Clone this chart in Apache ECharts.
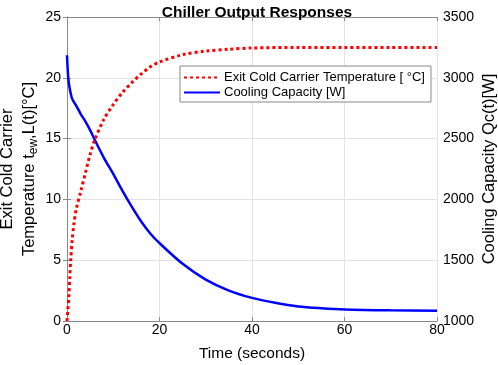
<!DOCTYPE html>
<html>
<head>
<meta charset="utf-8">
<script src="https://cdn.jsdelivr.net/npm/echarts@6/dist/echarts.min.js"></script>
<style>html,body{margin:0;padding:0;background:#fff;}#c{width:498px;height:365px;}</style>
</head>
<body>
<div id="c"></div>
<script>
const titleText = 'Chiller Output Responses';
const xTicks = [0, 20, 40, 60, 80];
const leftTicks = [0, 5, 10, 15, 20, 25];
const rightTicks = [1000, 1500, 2000, 2500, 3000, 3500];

const tempTime = [0, 0.2, 0.4, 0.6, 0.8, 1.1, 1.5, 2, 3, 4, 5, 6, 8, 10, 12, 14, 16, 18, 20, 25, 30, 35, 40, 50, 60, 70, 80];
const tempValues = [0, 1.0, 2.0, 3.5, 5.0, 6.6, 8.0, 9.2, 10.7, 12.2, 13.7, 14.9, 16.6, 17.8, 18.8, 19.6, 20.3, 20.9, 21.3, 21.9, 22.2, 22.35, 22.45, 22.5, 22.5, 22.5, 22.5];

const capTime = [0, 0.25, 0.5, 1, 1.5, 2, 3, 4, 5, 6, 8, 10, 12, 14, 16, 18, 20, 25, 30, 35, 40, 45, 50, 55, 60, 70, 80];
const capValues = [3185, 3010, 2930, 2840, 2800, 2770, 2700, 2640, 2570, 2490, 2340, 2210, 2070, 1940, 1820, 1720, 1640, 1470, 1340, 1250, 1190, 1150, 1120, 1105, 1095, 1088, 1085];

const tempName = 'Exit Cold Carrier Temperature [ °C]';
const capName = 'Cooling Capacity [W]';

const chart = echarts.init(document.getElementById('c'));
const axisColor = '#8a8a8a';
const font = 'Liberation Sans, Arial, sans-serif';
chart.setOption({
  animation: false,
  textStyle: { fontFamily: font },
  title: { text: titleText, left: 252, textAlign: 'center', top: 0,
    textStyle: { fontSize: 15.5, fontWeight: 'bold', color: '#000', fontFamily: font } },
  grid: { left: 67, right: 61, top: 17, bottom: 44, containLabel: false, outerBoundsMode: 'none' },
  legend: {
    orient: 'vertical', left: 180, top: 66, padding: [5, 6, 3, 3], itemGap: 2,
    itemWidth: 36, itemHeight: 14, backgroundColor: '#fff', borderColor: '#888', borderWidth: 1,
    itemStyle: { opacity: 0 },
    textStyle: { fontSize: 13, color: '#000', fontFamily: font, padding: [0, 0, 0, -1] },
    data: [tempName, capName]
  },
  xAxis: [{
    type: 'value', min: 0, max: 80, interval: 20,
    name: 'Time (seconds)', nameLocation: 'middle', nameGap: 25, nameMoveOverlap: false,
    nameTextStyle: { fontSize: 15.5, color: '#000' },
    axisLine: { show: true, lineStyle: { color: axisColor, width: 1 } },
    axisTick: { show: true, inside: true, length: 4, lineStyle: { color: axisColor } },
    axisLabel: { fontSize: 14, color: '#000', margin: 2 },
    splitLine: { show: true, lineStyle: { color: '#e3e3e3', width: 1 } }
  }, {
    type: 'value', min: 0, max: 80, interval: 20, position: 'top',
    axisLine: { show: true, lineStyle: { color: axisColor, width: 1 } },
    axisTick: { show: true, inside: true, length: 4, lineStyle: { color: axisColor } },
    axisLabel: { show: false }, splitLine: { show: false }
  }],
  yAxis: [{
    type: 'value', min: 0, max: 25, interval: 5, position: 'left',
    name: 'Exit Cold Carrier\nTemperature t{sub|ew}{n|,L(t)[°C]}', nameLocation: 'middle', nameGap: 27, nameMoveOverlap: false,
    nameTextStyle: { fontSize: 16.5, color: '#000', lineHeight: 22, align: 'center',
      rich: { sub: { fontSize: 12, verticalAlign: 'bottom', lineHeight: 22, padding: [7, 0, 0, 0] }, n: { fontSize: 16.5, lineHeight: 22 } } },
    axisLine: { show: true, lineStyle: { color: axisColor, width: 1 } },
    axisTick: { show: true, inside: true, length: 4, lineStyle: { color: axisColor } },
    axisLabel: { fontSize: 14, color: '#000', margin: 6 },
    splitLine: { show: true, lineStyle: { color: '#e3e3e3', width: 1 } }
  }, {
    type: 'value', min: 1000, max: 3500, interval: 500, position: 'right',
    name: 'Cooling Capacity Qc(t)[W]', nameLocation: 'middle', nameGap: 44, nameMoveOverlap: false,
    nameTextStyle: { fontSize: 16.5, color: '#000' },
    axisLine: { show: true, lineStyle: { color: axisColor, width: 1 } },
    axisTick: { show: true, inside: true, length: 4, lineStyle: { color: axisColor } },
    axisLabel: { fontSize: 14, color: '#000', margin: 6, formatter: v => String(v) },
    splitLine: { show: false }
  }],
  series: [{
    name: tempName, type: 'line', xAxisIndex: 0, yAxisIndex: 0,
    data: tempTime.map((t, i) => [t, tempValues[i]]),
    symbol: 'none', smooth: 0.3,
    lineStyle: { color: '#ff0000', width: 3, type: [3, 3], cap: 'butt' },
    itemStyle: { color: '#ff0000' }, z: 3
  }, {
    name: capName, type: 'line', xAxisIndex: 0, yAxisIndex: 1,
    data: capTime.map((t, i) => [t, capValues[i]]),
    symbol: 'none', smooth: 0.3,
    lineStyle: { color: '#0000ff', width: 2.5 },
    itemStyle: { color: '#0000ff' }, z: 2
  }]
});
</script>
</body>
</html>
